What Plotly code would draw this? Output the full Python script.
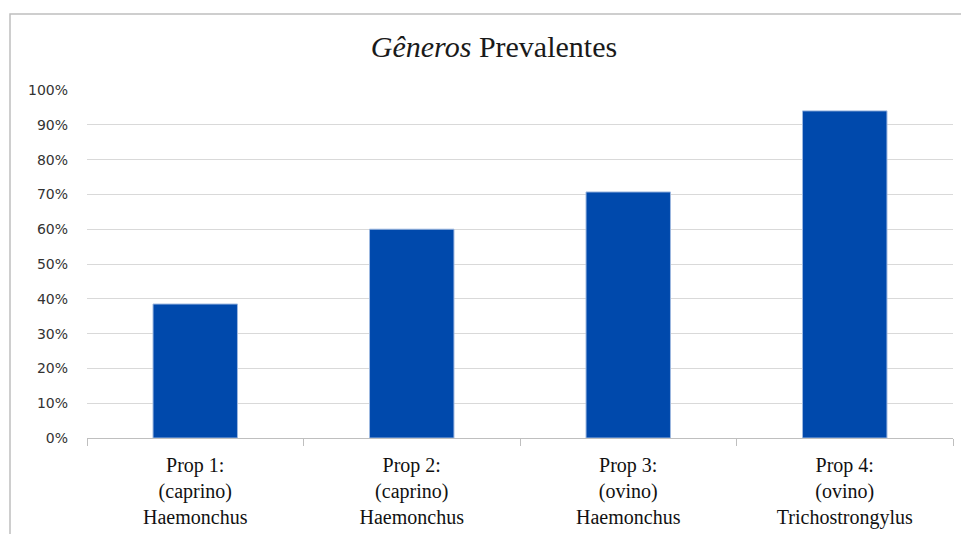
import plotly.graph_objects as go

categories = ["Prop 1:<br>(caprino)<br>Haemonchus",
              "Prop 2:<br>(caprino)<br>Haemonchus",
              "Prop 3:<br>(ovino)<br>Haemonchus",
              "Prop 4:<br>(ovino)<br>Trichostrongylus"]
values = [0.385, 0.60, 0.707, 0.94]
y_ticks = [i / 10 for i in range(11)]
y_labels = [f"{i*10}%" for i in range(11)]

W, H = 961, 534
L, R, T, B = 87, 8, 90, 96
pw, ph = W - L - R, H - T - B

def px(x):
    return (x - L) / pw

def py(y):
    return (H - B - y) / ph

fig = go.Figure()
fig.add_trace(go.Bar(
    x=categories, y=values,
    marker=dict(color="#0049AC", line=dict(color="#9DB8E0", width=1)),
    width=0.39,
))

fig.update_layout(
    width=W, height=H,
    margin=dict(l=L, r=R, t=T, b=B),
    paper_bgcolor="white", plot_bgcolor="white",
    showlegend=False,
    title=dict(
        text="<i>Gêneros</i> Prevalentes",
        x=494 / W, xref="container", xanchor="center",
        y=1 - 46 / H, yanchor="middle",
        font=dict(family="Liberation Serif", size=30, color="#1a1a1a"),
    ),
    xaxis=dict(
        showgrid=False, automargin=False,
        showline=True, linecolor="#BFBFBF", linewidth=1,
        ticks="outside", tickson="boundaries", ticklen=7, tickcolor="#BFBFBF",
        ticklabelstandoff=9,
        tickfont=dict(family="Liberation Serif", size=20, color="#111111"),
        range=[-0.5, 3.5],
    ),
    yaxis=dict(
        range=[0, 1.0], automargin=False,
        tickvals=y_ticks, ticktext=y_labels,
        showgrid=True, gridcolor="#D9D9D9", gridwidth=1,
        zeroline=False, showline=False,
        ticks="", ticklabelstandoff=18,
        tickfont=dict(family="DejaVu Sans", size=14, color="#333333"),
    ),
    shapes=[dict(
        type="rect", xref="paper", yref="paper",
        x0=px(10), x1=px(980), y0=py(560), y1=py(14),
        line=dict(color="#BFBFBF", width=1.5), fillcolor="rgba(0,0,0,0)",
        layer="below",
    )],
)

fig.write_html("out.html")
